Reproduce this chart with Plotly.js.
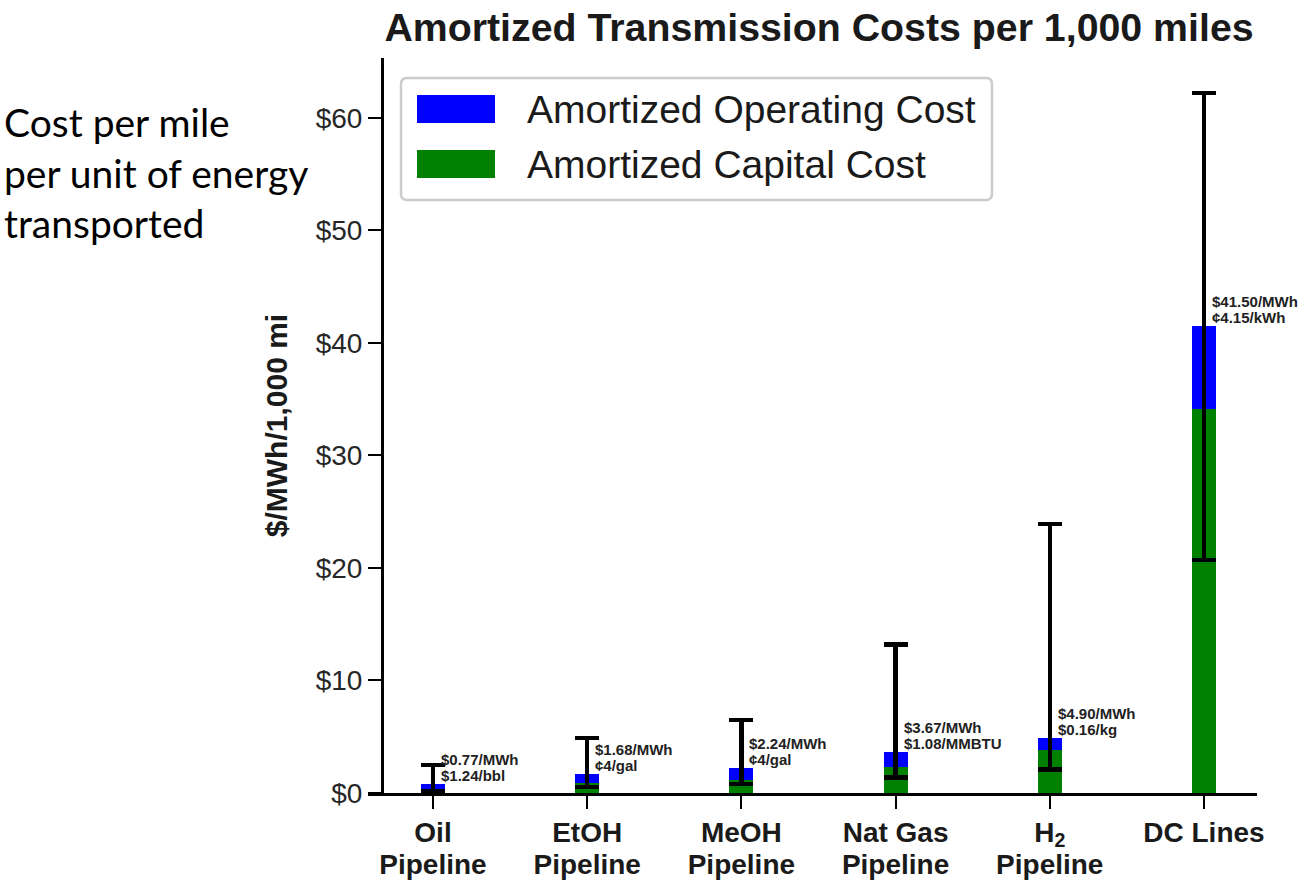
<!DOCTYPE html>
<html>
<head>
<meta charset="utf-8">
<script src="https://cdn.plot.ly/plotly-3.0.1.min.js"></script>
<style>html,body{margin:0;padding:0;background:#fff;}#chart{width:1301px;height:885px;}</style>
</head>
<body>
<div id="chart"></div>
<script>
// ---- data ----
const categories = ['Oil<br>Pipeline', 'EtOH<br>Pipeline', 'MeOH<br>Pipeline', 'Nat Gas<br>Pipeline', 'H<sub>2</sub><br>Pipeline', 'DC Lines'];
const capitalCost = [0.30, 0.90, 1.15, 2.30, 3.80, 34.10];
const operatingCost = [0.47, 0.78, 1.09, 1.37, 1.10, 7.40];
const totalCost = [0.77, 1.68, 2.24, 3.67, 4.90, 41.50];
const rangeLow = [0.20, 0.55, 0.80, 1.40, 2.10, 20.70];
const rangeHigh = [2.50, 4.90, 6.50, 13.20, 23.90, 62.20];
const labelTop = ['$0.77/MWh', '$1.68/MWh', '$2.24/MWh', '$3.67/MWh', '$4.90/MWh', '$41.50/MWh'];
const labelBottom = ['$1.24/bbl', '¢4/gal', '¢4/gal', '$1.08/MMBTU', '$0.16/kg', '¢4.15/kWh'];
const yTickVals = [0, 10, 20, 30, 40, 50, 60];
const yTickText = ['$0', '$10', '$20', '$30', '$40', '$50', '$60'];
const seriesNames = ['Amortized Operating Cost', 'Amortized Capital Cost'];

// ---- styles ----
const BLUE = '#0000ff', GREEN = '#008000';
const FONT = 'Liberation Sans, Arial, sans-serif';
const M = {l: 368, r: 44, t: 58, b: 92};
const PW = 1301 - M.l - M.r, PH = 885 - M.t - M.b;
const px2x = px => (px - M.l) / PW;
const py2y = py => (M.t + PH - py) / PH;

const xIdx = categories.map((_, i) => i);

const capitalTrace = {
  type: 'bar', x: xIdx, y: capitalCost, name: seriesNames[1],
  marker: {color: GREEN, line: {width: 0}}, width: 0.156, showlegend: false, hoverinfo: 'skip'
};
const operatingTrace = {
  type: 'bar', x: xIdx, y: operatingCost, name: seriesNames[0],
  marker: {color: BLUE, line: {width: 0}}, width: 0.156, showlegend: false, hoverinfo: 'skip',
  error_y: {
    type: 'data', symmetric: false,
    array: rangeHigh.map((h, i) => h - totalCost[i]),
    arrayminus: rangeLow.map((l, i) => totalCost[i] - l),
    color: '#000', thickness: 4.5, width: 12
  }
};

const annotations = [];
xIdx.forEach(i => {
  annotations.push({x: i, y: totalCost[i], xref: 'x', yref: 'y', text: '<b>' + labelBottom[i] + '</b>',
    showarrow: false, xanchor: 'left', yanchor: 'bottom', xshift: 6, yshift: -2,
    font: {family: FONT, size: 15, color: '#222'}});
  annotations.push({x: i, y: totalCost[i], xref: 'x', yref: 'y', text: '<b>' + labelTop[i] + '</b>',
    showarrow: false, xanchor: 'left', yanchor: 'bottom', xshift: 6, yshift: 14,
    font: {family: FONT, size: 15, color: '#222'}});
});

// side note
annotations.push({xref: 'paper', yref: 'paper', x: px2x(2), y: py2y(172), xanchor: 'left', yanchor: 'middle',
  align: 'left', showarrow: false, text: 'Cost per mile<br>per unit of energy<br>transported',
  font: {family: 'Lato, Open Sans, sans-serif', size: 39, color: '#000'}});

// legend (drawn as shapes + text so the swatches match the reference size)
function roundRect(px0, px1, py0, py1, r) {
  const x0 = px2x(px0), x1 = px2x(px1), yT = py2y(py0), yB = py2y(py1);
  const rx = r / PW, ry = r / PH;
  return `M${x0 + rx},${yT} L${x1 - rx},${yT} Q${x1},${yT} ${x1},${yT - ry} L${x1},${yB + ry} Q${x1},${yB} ${x1 - rx},${yB} ` +
         `L${x0 + rx},${yB} Q${x0},${yB} ${x0},${yB + ry} L${x0},${yT - ry} Q${x0},${yT} ${x0 + rx},${yT} Z`;
}
const shapes = [
  {type: 'path', xref: 'paper', yref: 'paper', path: roundRect(401, 992, 78, 200, 6),
    line: {color: '#cccccc', width: 2.5}, fillcolor: 'rgba(255,255,255,0.8)', layer: 'above'},
  {type: 'rect', xref: 'paper', yref: 'paper', x0: px2x(417), x1: px2x(495), y0: py2y(123), y1: py2y(95),
    line: {width: 0}, fillcolor: BLUE, layer: 'above'},
  {type: 'rect', xref: 'paper', yref: 'paper', x0: px2x(417), x1: px2x(495), y0: py2y(178), y1: py2y(150),
    line: {width: 0}, fillcolor: GREEN, layer: 'above'}
];
annotations.push({xref: 'paper', yref: 'paper', x: px2x(525), y: py2y(109), xanchor: 'left', yanchor: 'middle',
  showarrow: false, text: seriesNames[0], font: {family: FONT, size: 39, color: '#1a1a1a'}});
annotations.push({xref: 'paper', yref: 'paper', x: px2x(525), y: py2y(164), xanchor: 'left', yanchor: 'middle',
  showarrow: false, text: seriesNames[1], font: {family: FONT, size: 39, color: '#1a1a1a'}});

const xTickText = categories.map(c => c.split('<br>').map(s => '<span style="font-size:28px"><b>' + s + '</b></span>').join('<br>'));

const layout = {
  width: 1301, height: 885, margin: M,
  paper_bgcolor: '#fff', plot_bgcolor: '#fff',
  barmode: 'stack', showlegend: false,
  title: {text: '<b>Amortized Transmission Costs per 1,000 miles</b>', xref: 'container', yref: 'container',
    x: 819 / 1301, xanchor: 'center', y: 1 - 27 / 885, yanchor: 'middle',
    font: {family: FONT, size: 39.3, color: '#1a1a1a'}},
  xaxis: {
    range: [-0.4215, 5.344], tickmode: 'array', tickvals: xIdx, ticktext: xTickText,
    showline: true, linecolor: '#000', linewidth: 2.5, ticks: 'outside', ticklen: 13, tickwidth: 2, tickcolor: '#000',
    showgrid: false, zeroline: false, tickfont: {family: FONT, size: 25, color: '#1a1a1a'}, ticklabelstandoff: 3
  },
  yaxis: {
    range: [0, 65.33], tickmode: 'array', tickvals: yTickVals, ticktext: yTickText,
    anchor: 'free', position: px2x(382),
    showline: true, linecolor: '#000', linewidth: 2.5, ticks: 'outside', ticklen: 13, tickwidth: 2, tickcolor: '#000',
    showgrid: false, zeroline: false, tickfont: {family: FONT, size: 28, color: '#262626'},
    title: {text: '<b>$/MWh/1,000 mi</b>', font: {family: FONT, size: 30, color: '#1a1a1a'}, standoff: 18}
  },
  annotations: annotations, shapes: shapes
};

Plotly.newPlot('chart', [capitalTrace, operatingTrace], layout, {displayModeBar: false, staticPlot: true});
</script>
</body>
</html>
